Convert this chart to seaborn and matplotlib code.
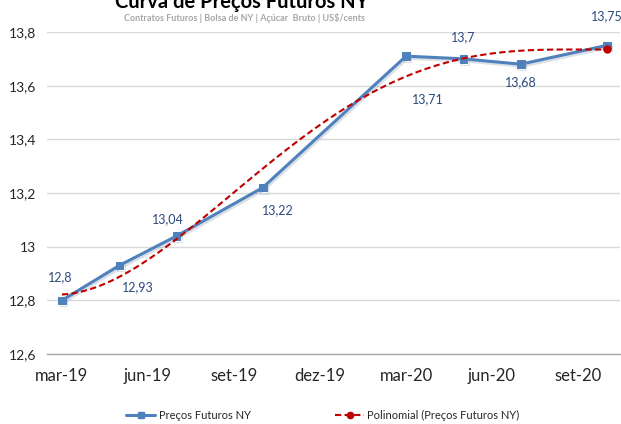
import numpy as np
import pandas as pd
import matplotlib
matplotlib.use("Agg")
import matplotlib.pyplot as plt
import matplotlib.patheffects as pe
from matplotlib.lines import Line2D
from matplotlib.ticker import FuncFormatter
import seaborn as sns

# contract months and settlement prices (US$ cents/lb)
contracts = ["2019-03", "2019-05", "2019-07", "2019-10",
             "2020-03", "2020-05", "2020-07", "2020-10"]
prices = [12.80, 12.93, 13.04, 13.22, 13.71, 13.70, 13.68, 13.75]

tick_months = ["2019-03", "2019-06", "2019-09", "2019-12",
               "2020-03", "2020-06", "2020-09"]
tick_labels = ["mar-19", "jun-19", "set-19", "dez-19",
               "mar-20", "jun-20", "set-20"]

series_name = "Preços Futuros NY"
trend_name = "Polinomial (Preços Futuros NY)"
title = "Curva de Preços Futuros NY"
subtitle = "Contratos Futuros | Bolsa de NY | Açúcar  Bruto | US$/cents"

# label offsets in pixels (dx, dy)
LABEL_OFFSETS = [(-2, 23), (19, -22), (-9, 17), (15, -23),
                 (22, -43), (0, 22), (0, -18), (0, 29)]

BLUE = "#4F81BD"
LABEL_BLUE = "#2C4A7C"
RED = "#C00000"


def month_index(s):
    p = pd.Period(s, freq="M")
    return (p.year - 2019) * 12 + p.month - 3


df = pd.DataFrame({"month": [month_index(m) for m in contracts],
                   "price": prices})
ticks = [month_index(m) for m in tick_months]

sns.set_theme(style="white")
plt.rcParams["font.family"] = ["Lato", "DejaVu Sans"]

fig = plt.figure(figsize=(6.21, 4.24), dpi=100)
ax = fig.add_axes([47 / 621, 1 - 354 / 424, (620 - 47) / 621, (354 - 32) / 424])

sns.lineplot(data=df, x="month", y="price", ax=ax, color=BLUE, lw=2.2,
             marker="s", markersize=5.5, markeredgecolor=BLUE,
             legend=False, zorder=3,
             path_effects=[pe.SimpleLineShadow(offset=(1, -1.5), shadow_color="#9aa8b8", alpha=0.35),
                           pe.Normal()])

# 4th order polynomial trend, as in the spreadsheet
sns.regplot(data=df, x="month", y="price", ax=ax, order=4, ci=None,
            scatter=False, truncate=True,
            line_kws=dict(color=RED, lw=1.5, ls=(0, (3, 1.6)), zorder=4))
trend = ax.lines[-1]
tx, ty = trend.get_xdata(), trend.get_ydata()
ax.plot([tx[-1]], [ty[-1]], "o", color=RED, ms=5, zorder=5)

for (x, y), (dx, dy) in zip(df[["month", "price"]].values, LABEL_OFFSETS):
    ax.annotate(f"{y:g}".replace(".", ","), (x, y), xytext=(dx, dy),
                textcoords="offset pixels", ha="center", va="center",
                fontsize=9, color=LABEL_BLUE, annotation_clip=False)

ax.set_ylim(12.6, 13.8)
ax.set_xlim((47 - 62) / 28.67, (620 - 62) / 28.67)
ax.set_yticks(np.arange(12.6, 13.81, 0.2))
ax.yaxis.set_major_formatter(FuncFormatter(lambda v, _: f"{round(v, 1):g}".replace(".", ",")))
ax.set_xticks(ticks)
ax.set_xticklabels(tick_labels)
ax.tick_params(axis="x", labelsize=12, length=0, pad=10)
ax.tick_params(axis="y", labelsize=10, length=0, pad=8)
ax.set_xlabel("")
ax.set_ylabel("")
ax.grid(axis="y", color="#D9D9D9", lw=1)
ax.set_axisbelow(True)
for side in ["top", "right", "left"]:
    ax.spines[side].set_visible(False)
ax.spines["bottom"].set_color("#A6A6A6")
ax.spines["bottom"].set_linewidth(1)

h_series = Line2D([], [], color=BLUE, lw=2.2, marker="s",
                  markersize=5, markeredgecolor=BLUE)
h_trend = Line2D([], [], color=RED, lw=1.5, ls=(0, (3, 1.6)),
                 marker="o", ms=4.5, markevery=[1])
h_trend.set_data([0, 1], [0, 0])
fig.legend([h_series, h_trend], [series_name, trend_name], loc="center",
           bbox_to_anchor=(323 / 621, 1 - 415 / 424), ncol=2, frameon=False,
           fontsize=8, handlelength=2.6, handletextpad=0.3, columnspacing=7.6)

fig.text(242 / 621, 1 - 8 / 424, title, ha="center", va="baseline",
         fontsize=14.5, fontweight="bold", color="black")
fig.text(245 / 621, 1 - 21 / 424, subtitle, ha="center", va="baseline",
         fontsize=6.5, fontweight="bold", color="#A6A6A6")

fig.savefig("out.png", dpi=100)
